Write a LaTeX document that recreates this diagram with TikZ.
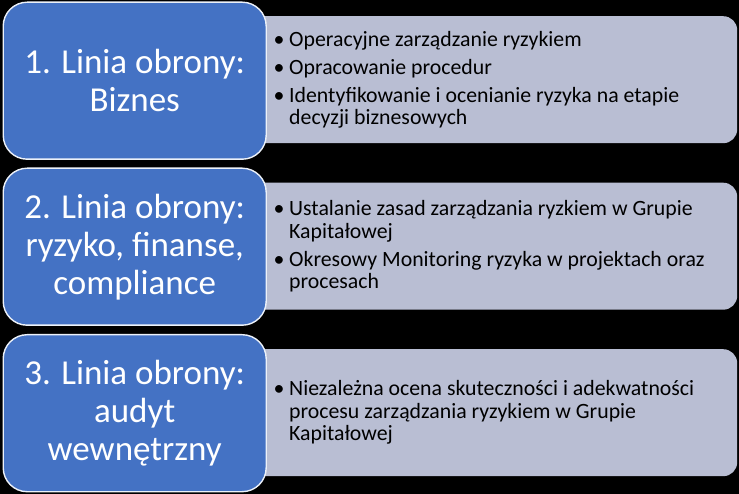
\documentclass[tikz,border=0pt]{standalone}
\usepackage{fontspec}
\setmainfont{Carlito}
\definecolor{boxblue}{HTML}{4472C4}
\definecolor{boxgray}{HTML}{B9BED3}
\begin{document}
\begin{tikzpicture}[x=1pt,y=-1pt,
  bluebox/.style={rectangle, rounded corners=24pt, fill=boxblue, draw=white!90!boxblue, line width=1.4pt,
    anchor=north west, minimum width=263pt, minimum height=157pt, inner sep=0pt,
    text=white, align=center, font=\fontsize{35}{38}\selectfont},
  graybox/.style={rectangle, rounded corners=14pt, fill=boxgray, draw=none,
    anchor=north west, minimum width=487pt, minimum height=127pt, inner sep=0pt},
  bultext/.style={anchor=west, align=left, inner sep=0pt, text=black, font=\fontsize{21.8}{22.5}\selectfont}]
\newcommand{\bul}{\makebox[15.5pt][l]{•}}
\newcommand{\ind}{\hspace*{15.5pt}}
\fill[black] (0,0) rectangle (739,494);
\useasboundingbox (0,0) rectangle (739,494);
% gray boxes
\node[graybox] (g1) at (250,16) {};
\node[graybox] (g2) at (250,182.5) {};
\node[graybox] (g3) at (250,349) {};
% blue boxes
\node[bluebox] (b1) at (2.5,1.5) {1. Linia obrony:\\Biznes};
\node[bluebox] (b2) at (2.5,167.5) {2. Linia obrony:\\ryzyko, finanse,\\compliance};
\node[bluebox] (b3) at (2.5,334) {3. Linia obrony:\\audyt\\wewnętrzny};
% texts
\node[bultext] (t1) at (273.5,80) {\bul Operacyjne zarządzanie ryzykiem\\[5.5pt]
\bul Opracowanie procedur\\[5.5pt]
\bul Identyfikowanie i ocenianie ryzyka na etapie\\
\ind decyzji biznesowych};
\node[bultext] (t2) at (273.5,246.5) {\bul Ustalanie zasad zarządzania ryzkiem w Grupie\\
\ind Kapitałowej\\[5.5pt]
\bul Okresowy Monitoring ryzyka w projektach oraz\\
\ind procesach};
\node[bultext] (t3) at (273.5,412.5) {\bul Niezależna ocena skuteczności i adekwatności\\
\ind procesu zarządzania ryzykiem w Grupie\\
\ind Kapitałowej};
\end{tikzpicture}
\end{document}
